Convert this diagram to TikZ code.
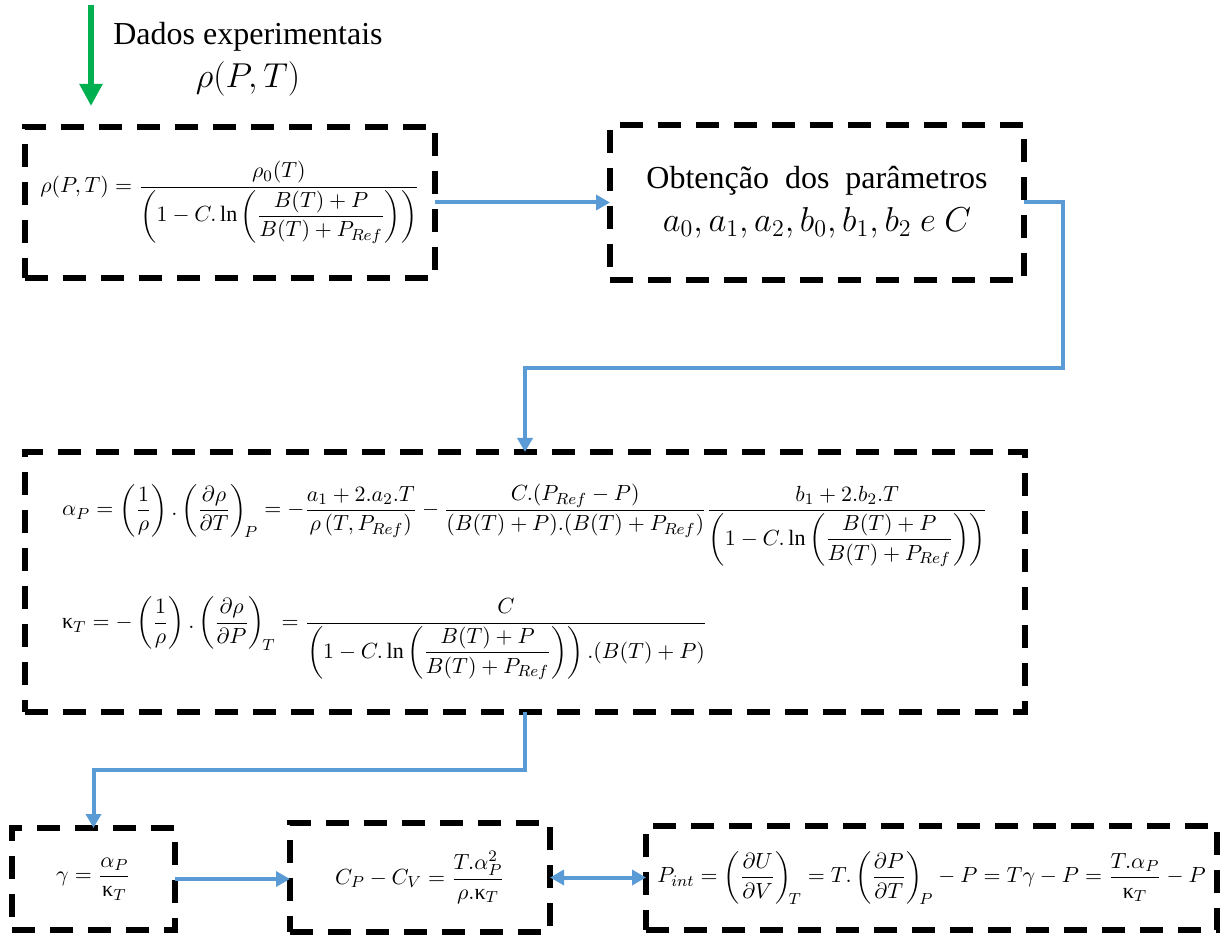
\documentclass[tikz,border=0pt]{standalone}
\usepackage{amsmath}
\usepackage{fontspec}
\setmainfont{Liberation Serif}
\usetikzlibrary{arrows.meta,positioning,calc}
\definecolor{flowblue}{RGB}{91,155,213}
\definecolor{datagreen}{RGB}{0,176,80}
\newcommand{\kT}{\textnormal{κ}_T}
\tikzset{
    eqbox/.style={draw=black, line width=3.2pt, dash pattern=on 11.5pt off 7.5pt,
        outer sep=0pt, align=left, inner sep=0pt, font=\fontsize{11}{13}\selectfont},
    bigtext/.style={align=center, font=\fontsize{16}{21.5}\selectfont},
    flowarrow/.style={-{Triangle[length=7pt,width=7.5pt]}, line width=2pt, flowblue},
    dataarrow/.style={-{Triangle[length=11pt,width=11pt]}, line width=2.6pt, datagreen}
}

\begin{document}
\begin{tikzpicture}[x=0.5pt, y=-0.5pt]
\useasboundingbox (0,0) rectangle (1221,935);
% input data
\coordinate (datatop) at (91,5);
\coordinate (datatip) at (91,106);
\draw[dataarrow] (datatop) -- (datatip);
\node[bigtext] (datalbl) at (248,59) {Dados experimentais\\ {\fontsize{18}{20}\selectfont$\rho(P,T)$}};
% boxes
\node[eqbox, minimum width=205pt, minimum height=75.5pt] (dens) at (230,202.5)
    {$\displaystyle \rho(P,T)=\frac{\rho_0(T)}{\left(1-C.\ln\left(\dfrac{B(T)+P}{B(T)+P_{Ref}}\right)\right)}$};
\node[eqbox, bigtext, minimum width=207pt, minimum height=77.5pt] (params) at (817,202.5)
    {Obtenção\ \ dos\ \ parâmetros\\ {\fontsize{17}{21.5}\selectfont$a_0,a_1,a_2,b_0,b_1,b_2\ e\ C$}};
\node[eqbox, minimum width=500pt, minimum height=130pt] (coefs) at (525,582)
    {$\displaystyle \alpha_P=\left(\frac{1}{\rho}\right).\left(\frac{\partial\rho}{\partial T}\right)_{\!P}
      =-\frac{a_1+2.a_2.T}{\rho\left(T,P_{Ref}\right)}
      -\frac{C.(P_{Ref}-P)}{(B(T)+P).(B(T)+P_{Ref})}
      \frac{b_1+2.b_2.T}{\left(1-C.\ln\left(\dfrac{B(T)+P}{B(T)+P_{Ref}}\right)\right)}$\\[14pt]
     $\displaystyle \kT=-\left(\frac{1}{\rho}\right).\left(\frac{\partial\rho}{\partial P}\right)_{\!T}
      =\frac{C}{\left(1-C.\ln\left(\dfrac{B(T)+P}{B(T)+P_{Ref}}\right)\right).(B(T)+P)}$};
\node[eqbox, minimum width=81.5pt, minimum height=51pt] (gamma) at (93.5,879)
    {$\displaystyle \gamma=\frac{\alpha_P}{\kT}$};
\node[eqbox, minimum width=130pt, minimum height=54.5pt] (heatcap) at (420,877.5)
    {$\displaystyle C_P-C_V=\frac{T.\alpha_P^2}{\rho.\kT}$};
\node[eqbox, minimum width=285.5pt, minimum height=52pt] (pint) at (931.5,878)
    {$\displaystyle P_{int}=\left(\frac{\partial U}{\partial V}\right)_{\!T}
      =T.\left(\frac{\partial P}{\partial T}\right)_{\!P}-P=T\gamma-P=\frac{T.\alpha_P}{\kT}-P$};
% connectors
\draw[flowarrow] (dens) -- (params);
\draw[flowarrow] (params.east) -- ++(39,0) |- (coefs.north |- 0,368) -- (coefs.north);
\draw[flowarrow] (coefs.south) -- (coefs.south |- 0,770) -| (gamma.north);
\draw[flowarrow] (gamma.east) -- (gamma.east -| heatcap.west);
\draw[flowarrow, {Triangle[length=7pt,width=7.5pt]}-{Triangle[length=7pt,width=7.5pt]}]
    (heatcap.east) -- (heatcap.east -| pint.west);
\end{tikzpicture}
\end{document}
